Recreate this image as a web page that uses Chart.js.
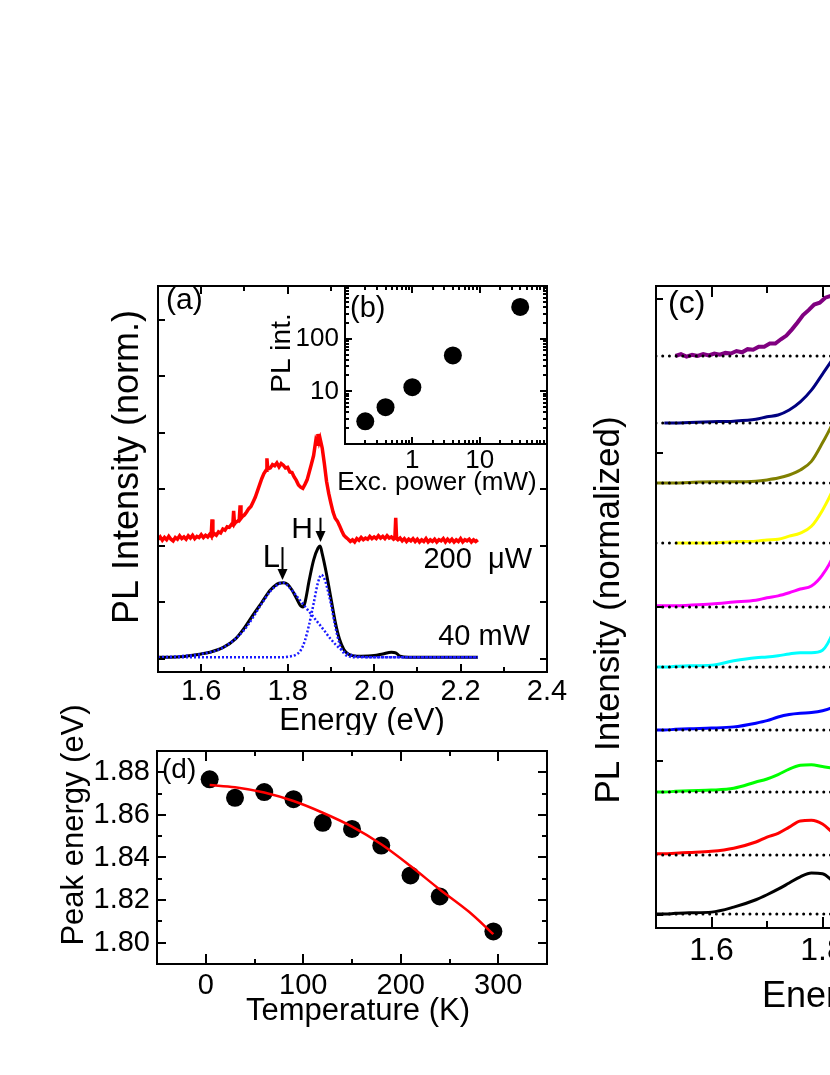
<!DOCTYPE html>
<html>
<head>
<meta charset="utf-8">
<script src="https://cdn.jsdelivr.net/npm/chart.js@4.4.0/dist/chart.umd.min.js"></script>
<style>
html, body { margin: 0; padding: 0; background: #fff; overflow: hidden; width: 830px; height: 1075px; }
.panel { position: absolute; }
</style>
</head>
<body>
<div class="panel" style="left:0px;top:240px"><canvas id="chartA" width="570" height="495"></canvas></div>
<div class="panel" style="left:250px;top:250px"><canvas id="chartB" width="310" height="250"></canvas></div>
<div class="panel" style="left:0px;top:690px"><canvas id="chartD" width="570" height="385"></canvas></div>
<div class="panel" style="left:560px;top:240px"><canvas id="chartC" width="560" height="835"></canvas></div>
<script>
// --- panel (a): PL spectra, 200 uW (red) and 40 mW (black) with two-peak fit ---
const redE = [
  1.500,1.505,1.510,1.515,1.520,1.525,1.530,1.535,1.540,1.545,1.550,1.555,1.560,1.565,1.570,1.575,1.580,1.585,1.590,1.595,1.600,1.605,1.610,1.615,1.620,
  1.623,1.625,1.627,1.630,1.635,1.640,1.645,1.650,1.655,1.660,1.665,1.670,1.673,1.675,1.677,1.680,1.685,1.688,1.690,1.692,1.695,
  1.700,1.705,1.710,1.715,1.720,1.725,1.730,1.735,1.740,1.745,1.750,1.752,1.754,1.760,1.765,1.770,1.775,1.780,1.785,1.790,1.795,1.800,
  1.805,1.810,1.815,1.820,1.825,1.830,1.835,1.840,1.845,1.850,1.855,1.860,1.865,1.868,1.870,1.873,1.875,1.880,1.885,1.890,1.895,1.900,1.905,1.910,1.915,1.920,1.925,1.930,1.935,
  1.940,1.945,1.950,1.955,1.960,1.965,1.970,1.975,1.980,1.985,1.990,1.995,2.000,2.005,2.010,2.015,2.020,2.025,2.030,2.035,2.040,2.045,2.048,2.050,2.052,
  2.055,2.060,2.065,2.070,2.075,2.080,2.085,2.090,2.095,2.100,2.105,2.110,2.115,2.120,2.125,2.130,2.135,2.140,2.145,2.150,
  2.155,2.160,2.165,2.170,2.175,2.180,2.185,2.190,2.195,2.200,2.205,2.210,2.215,2.220,2.225,2.230,2.235,2.240];
const redI = [
  2.12,2.16,2.10,2.15,2.11,2.17,2.12,2.09,2.15,2.12,2.18,2.13,2.16,2.12,2.18,2.14,2.19,2.13,2.17,2.15,2.20,2.15,2.19,2.16,2.21,
  2.18,2.47,2.19,2.22,2.19,2.25,2.23,2.30,2.28,2.34,2.33,2.38,2.37,2.62,2.39,2.42,2.44,2.47,2.72,2.49,2.52,
  2.55,2.60,2.66,2.70,2.78,2.86,2.97,3.08,3.19,3.28,3.34,3.55,3.36,3.38,3.44,3.42,3.47,3.40,3.46,3.43,3.38,3.39,
  3.31,3.30,3.22,3.16,3.08,3.04,3.02,3.09,3.17,3.31,3.45,3.60,3.86,3.80,3.98,3.85,3.90,3.73,3.45,3.14,2.93,2.76,2.60,2.49,2.44,2.36,2.27,2.19,2.15,
  2.12,2.08,2.11,2.07,2.13,2.10,2.15,2.11,2.14,2.12,2.17,2.13,2.16,2.13,2.18,2.14,2.17,2.13,2.18,2.14,2.16,2.12,2.14,2.50,2.13,
  2.11,2.14,2.09,2.13,2.08,2.12,2.09,2.13,2.08,2.12,2.07,2.11,2.08,2.13,2.07,2.11,2.08,2.12,2.07,2.11,
  2.09,2.13,2.07,2.12,2.08,2.12,2.07,2.11,2.08,2.13,2.07,2.11,2.09,2.12,2.07,2.11,2.08,2.11];

const blackE = [1.50,1.55,1.60,1.62,1.65,1.68,1.70,1.72,1.74,1.76,1.78,1.79,1.80,1.81,1.82,1.83,1.835,1.84,1.85,1.86,
  1.87,1.875,1.88,1.89,1.90,1.91,1.92,1.93,1.94,1.95,1.97,2.00,2.02,2.04,2.05,2.06,2.08,2.12,2.16,2.20,2.24];
const blackI = [0.03,0.04,0.09,0.12,0.20,0.36,0.55,0.78,1.00,1.22,1.34,1.35,1.32,1.22,1.08,0.94,0.92,1.00,1.40,1.75,
  1.96,2.00,1.86,1.50,1.08,0.66,0.35,0.17,0.09,0.06,0.05,0.06,0.09,0.12,0.11,0.05,0.03,0.03,0.03,0.03,0.03];

const fitLE = [1.50,1.55,1.60,1.65,1.70,1.74,1.76,1.78,1.79,1.80,1.82,1.84,1.86,1.88,1.90,1.92,1.94,1.96,2.00,2.24];
const fitLI = [0.03,0.05,0.09,0.20,0.52,0.98,1.20,1.33,1.35,1.30,1.12,0.93,0.74,0.55,0.35,0.19,0.09,0.05,0.03,0.03];
const fitHE = [1.50,1.78,1.80,1.82,1.83,1.84,1.85,1.86,1.87,1.878,1.885,1.89,1.90,1.91,1.92,1.93,1.94,1.96,2.24];
const fitHI = [0.03,0.03,0.04,0.08,0.15,0.33,0.62,0.98,1.35,1.49,1.42,1.30,0.98,0.58,0.27,0.10,0.05,0.03,0.03];

const peakArrows = [{e: 1.786, from: 1.98, to: 1.40}, {e: 1.875, from: 2.50, to: 2.07}];

const aXTicks = [1.6,1.7,1.8,1.9,2.0,2.1,2.2,2.3,2.4];
const aXLabels = [1.6,1.8,2.0,2.2,2.4];
const aYTicks = [0,1,2,3,4,5,6];

// --- panel (b): integrated PL vs excitation power ---
const excPower = [0.2, 0.4, 1, 4, 40];
const plInt = [2.7, 5, 12, 48, 400];
const bXTicks = [0.2,0.3,0.4,0.5,0.6,0.7,0.8,0.9,1,2,3,4,5,6,7,8,9,10,20,30,40,50,60,70,80,90];
const bXLabels = [1, 10];
const bYTicks = [2,3,4,5,6,7,8,9,10,20,30,40,50,60,70,80,90,100,200,300,400,500,600,700,800,900];
const bYLabels = [10, 100];

// --- panel (d): peak energy vs temperature ---
const tempK = [4, 30, 60, 90, 120, 150, 180, 210, 240, 295];
const peakE = [1.8767, 1.868, 1.8707, 1.8674, 1.8563, 1.8534, 1.8456, 1.8316, 1.8217, 1.8053];
const fitT = [4, 30, 60, 90, 120, 150, 180, 210, 240, 270, 295];
const fitE = [1.8740, 1.8730, 1.8705, 1.8665, 1.8610, 1.8545, 1.8462, 1.8360, 1.8250, 1.8145, 1.8040];
const dXTicks = [0, 50, 100, 150, 200, 250, 300];
const dXLabels = [0, 100, 200, 300];
const dYTicks = [1.80,1.81,1.82,1.83,1.84,1.85,1.86,1.87,1.88];
const dYLabels = [1.80,1.82,1.84,1.86,1.88];

// --- panel (c): temperature series, offset spectra ---
const cE = [1.50,1.515,1.535,1.56,1.60,1.64,1.68,1.70,1.72,1.74,1.76,1.78,1.80,1.82,1.84];
const cBlack   = [0,0,0.01,0.02,0.03,0.11,0.23,0.31,0.40,0.50,0.60,0.66,0.65,0.52,0.39];
const cRed     = [0.02,0.02,0.03,0.04,0.06,0.11,0.21,0.29,0.35,0.45,0.55,0.56,0.50,0.35,0.24];
const cGreen   = [0,0,0.01,0.02,0.03,0.06,0.16,0.21,0.28,0.37,0.43,0.44,0.41,0.39,0.39];
const cBlue    = [0,0,0.01,0.02,0.03,0.05,0.11,0.15,0.21,0.25,0.27,0.28,0.31,0.37,0.45];
const cCyan    = [0,0,0.01,0.02,0.03,0.10,0.15,0.16,0.18,0.21,0.23,0.23,0.27,0.58,1.13];
const cMagenta = [0.02,0.02,0.02,0.03,0.05,0.08,0.11,0.15,0.18,0.23,0.29,0.34,0.52,0.84,1.45];
const cYellow  = [null,null,0,0,0,0.02,0.03,0.05,0.06,0.11,0.16,0.27,0.53,0.89,1.45];
const cOlive   = [0,0,0,0.01,0.02,0.02,0.03,0.05,0.08,0.13,0.21,0.35,0.65,1.00,1.53];
const cNavy    = [null,0,0,0.01,0.02,0.03,0.06,0.10,0.13,0.21,0.34,0.53,0.79,1.05,1.30];
const purpleE = [1.535,1.545,1.555,1.565,1.575,1.585,1.595,1.605,1.615,1.625,1.635,1.645,1.655,1.665,1.675,1.685,
  1.695,1.705,1.715,1.725,1.735,1.745,1.755,1.765,1.775,1.785,1.795,1.805,1.815,1.825,1.835,1.845];
const purpleI = [0.00,0.03,-0.01,0.02,0.00,0.03,0.01,0.04,0.02,0.05,0.04,0.08,0.06,0.11,0.10,0.15,
  0.15,0.20,0.20,0.27,0.33,0.43,0.54,0.66,0.74,0.83,0.86,0.94,0.97,1.02,1.03,1.07];
const cOffsets = [0.226, 1.177, 2.194, 3.194, 4.210, 5.177, 6.210, 7.177, 8.145, 9.226];
const cColors = ['#000000','#ff0000','#00ff00','#0000ff','#00ffff','#ff00ff','#ffff00','#808000','#000080','#800080'];
const cXTicks = [1.6,1.7,1.8,1.9,2.0,2.1,2.2];
const cXLabels = [1.6,1.8,2.0,2.2];
const cYTicks = [0.21, 2.694, 5.177, 7.661, 10.145];

const FONT = "'Liberation Sans', Arial, Helvetica, sans-serif";
Chart.defaults.font.family = FONT;
Chart.defaults.color = '#000';
Chart.defaults.animation = false;

const pts = (xs, ys, off) => xs.map((x, i) => ({x: x, y: ys[i] == null ? null : ys[i] + (off || 0)}))
  .filter(p => p.y !== null);

// scale with fixed ticks, fixed box size and no grid
function axis(o) {
  return {
    type: o.type || 'linear',
    position: o.pos,
    min: o.min, max: o.max,
    grid: {display: false, drawTicks: false},
    border: {display: false},
    afterBuildTicks: s => { s.ticks = o.ticks.map(v => ({value: v})); },
    afterFit: s => {
      if (o.pos === 'left') s.width = o.size; else s.height = o.size;
      s.paddingLeft = s.paddingRight = s.paddingTop = s.paddingBottom = 0;
    },
    ticks: {
      autoSkip: false, maxRotation: 0, minRotation: 0,
      padding: o.pad || 0, color: '#000',
      font: {size: o.font || 29},
      callback: v => (o.labels || []).includes(v) ? o.fmt(v) : ''
    }
  };
}

// closed frame with inward ticks
function frame(o) {
  return {
    id: 'frame',
    beforeDatasetsDraw(chart) {
      if (!o.fill) return;
      const a = chart.chartArea;
      chart.ctx.save();
      chart.ctx.fillStyle = o.fill;
      chart.ctx.fillRect(a.left, a.top, a.width, a.height);
      chart.ctx.restore();
    },
    afterDraw(chart) {
      const {ctx, chartArea: a} = chart;
      const xs = chart.scales.x, ys = chart.scales.y;
      ctx.save();
      ctx.strokeStyle = '#000';
      ctx.lineWidth = 2;
      ctx.beginPath();
      xs.ticks.forEach(t => {
        const p = Math.round(xs.getPixelForValue(t.value));
        if (p <= a.left + 1 || p >= a.right - 1) return;
        const len = t.label ? o.xMajor : o.xMinor;
        ctx.moveTo(p, a.bottom); ctx.lineTo(p, a.bottom - len);
        ctx.moveTo(p, a.top); ctx.lineTo(p, a.top + len);
      });
      ys.ticks.forEach(t => {
        const p = Math.round(ys.getPixelForValue(t.value));
        if (p <= a.top + 1 || p >= a.bottom - 1) return;
        const len = t.label ? o.yMajor : o.yMinor;
        ctx.moveTo(a.left, p); ctx.lineTo(a.left + len, p);
        if (o.right !== false) { ctx.moveTo(a.right, p); ctx.lineTo(a.right - len, p); }
      });
      ctx.stroke();
      ctx.strokeRect(a.left, a.top, a.width, a.height);
      ctx.restore();
    }
  };
}

// free text, given in page coordinates
function notes(items, offX, offY) {
  return {
    id: 'notes',
    afterDraw(chart) {
      const ctx = chart.ctx;
      items.forEach(it => {
        ctx.save();
        ctx.translate(it.x - offX, it.y - offY);
        if (it.rot) ctx.rotate(it.rot);
        ctx.font = it.size + 'px ' + FONT;
        ctx.fillStyle = '#000';
        ctx.textAlign = it.align || 'center';
        ctx.textBaseline = it.base || 'middle';
        ctx.fillText(it.text, 0, 0);
        ctx.restore();
      });
    }
  };
}

const arrowsPlugin = {
  id: 'arrows',
  afterDatasetsDraw(chart) {
    const {ctx, scales: {x, y}} = chart;
    peakArrows.forEach(a => {
      const px = Math.round(x.getPixelForValue(a.e)) + 0.5;
      const y0 = y.getPixelForValue(a.from), y1 = y.getPixelForValue(a.to);
      ctx.save();
      ctx.strokeStyle = '#000'; ctx.fillStyle = '#000'; ctx.lineWidth = 2;
      ctx.beginPath(); ctx.moveTo(px, y0); ctx.lineTo(px, y1 - 9); ctx.stroke();
      ctx.beginPath(); ctx.moveTo(px - 5, y1 - 11); ctx.lineTo(px + 5, y1 - 11); ctx.lineTo(px, y1); ctx.closePath(); ctx.fill();
      ctx.restore();
    });
  }
};

const baseOpts = (pad, scales) => ({
  responsive: false,
  maintainAspectRatio: false,
  animation: false,
  events: [],
  layout: {padding: pad, autoPadding: false},
  plugins: {legend: {display: false}, tooltip: {enabled: false}},
  scales: scales
});

const lineDs = (data, color, width, extra) => Object.assign({
  data: data, borderColor: color, borderWidth: width, pointRadius: 0, fill: false,
  tension: 0, cubicInterpolationMode: 'monotone'
}, extra || {});

// ---------- chart (a) ----------
new Chart(document.getElementById('chartA'), {
  type: 'line',
  data: {
    datasets: [
      lineDs(pts(fitLE, fitLI), '#1a1aff', 2.5, {borderDash: [2, 2]}),
      lineDs(pts(fitHE, fitHI), '#1a1aff', 2.5, {borderDash: [2, 2]}),
      lineDs(pts(blackE, blackI), '#000000', 3),
      lineDs(pts(redE, redI), '#ff0000', 3.5, {cubicInterpolationMode: 'default'})
    ]
  },
  options: baseOpts({top: 46, right: 23, left: 0, bottom: 0}, {
    x: axis({pos: 'bottom', min: 1.5, max: 2.4, ticks: aXTicks, labels: aXLabels, fmt: v => v.toFixed(1), size: 63, pad: 3, font: 29}),
    y: axis({pos: 'left', min: -0.23, max: 6.6, ticks: aYTicks, labels: [], fmt: v => '', size: 158})
  }),
  plugins: [arrowsPlugin, frame({xMajor: 8, xMinor: 5, yMajor: 7, yMinor: 7}), notes([
    {text: 'PL Intensity (norm.)', x: 128, y: 467, size: 36, rot: -Math.PI / 2},
    {text: 'Energy (eV)', x: 362, y: 721, size: 31},
    {text: '(a)', x: 166, y: 301, size: 30, align: 'left'},
    {text: '200  \u03bcW', x: 532, y: 560, size: 29, align: 'right'},
    {text: '40 mW', x: 530, y: 637, size: 29, align: 'right'},
    {text: 'L', x: 280, y: 567, size: 31, align: 'right', base: 'alphabetic'},
    {text: 'H', x: 313, y: 538, size: 30, align: 'right', base: 'alphabetic'}
  ], 0, 240)]
});

// ---------- chart (b) inset ----------
new Chart(document.getElementById('chartB'), {
  type: 'scatter',
  data: {
    datasets: [{data: pts(excPower, plInt), backgroundColor: '#000', borderColor: '#000', pointRadius: 9, borderWidth: 0}]
  },
  options: baseOpts({top: 36, right: 13, left: 0, bottom: 0}, {
    x: axis({type: 'logarithmic', pos: 'bottom', min: 0.1, max: 100, ticks: bXTicks, labels: bXLabels, fmt: v => String(v), size: 56, pad: 1, font: 26}),
    y: axis({type: 'logarithmic', pos: 'left', min: 1, max: 1000, ticks: bYTicks, labels: bYLabels, fmt: v => String(v), size: 95, pad: 6, font: 26})
  }),
  plugins: [frame({fill: '#fff', xMajor: 7, xMinor: 4, yMajor: 7, yMinor: 4}), notes([
    {text: '(b)', x: 350, y: 309, size: 29, align: 'left'},
    {text: 'PL int.', x: 282, y: 353, size: 28, rot: -Math.PI / 2},
    {text: 'Exc. power (mW)', x: 437, y: 483, size: 26}
  ], 250, 250)]
});

// ---------- chart (d) ----------
new Chart(document.getElementById('chartD'), {
  type: 'line',
  data: {
    datasets: [
      lineDs(pts(fitT, fitE), '#ff0000', 2.5),
      {type: 'scatter', data: pts(tempK, peakE), backgroundColor: '#000', borderColor: '#000', pointRadius: 9, borderWidth: 0, showLine: false}
    ]
  },
  options: baseOpts({top: 61, right: 23, left: 0, bottom: 0}, {
    x: axis({pos: 'bottom', min: -50, max: 350, ticks: dXTicks, labels: dXLabels, fmt: v => String(v), size: 111, pad: 5, font: 29}),
    y: axis({pos: 'left', min: 1.79, max: 1.89, ticks: dYTicks, labels: dYLabels, fmt: v => v.toFixed(2), size: 157, pad: 7, font: 29})
  }),
  plugins: [frame({xMajor: 10, xMinor: 5, yMajor: 9, yMinor: 5}), notes([
    {text: '(d)', x: 162, y: 770, size: 28, align: 'left'},
    {text: 'Peak energy (eV)', x: 74, y: 825, size: 31, rot: -Math.PI / 2},
    {text: 'Temperature (K)', x: 358, y: 1011, size: 31}
  ], 0, 690)]
});

// ---------- chart (c) ----------
const cSeries = [cBlack, cRed, cGreen, cBlue, cCyan, cMagenta, cYellow, cOlive, cNavy];
const cDatasets = [];
cOffsets.forEach(off => {
  cDatasets.push(lineDs([{x: 1.5, y: off}, {x: 2.3, y: off}], '#000', 3,
    {borderDash: [0.01, 6.7], borderCapStyle: 'round'}));
});
cSeries.forEach((s, i) => cDatasets.push(lineDs(pts(cE, s, cOffsets[i]), cColors[i], 3)));
cDatasets.push(lineDs(pts(purpleE, purpleI, cOffsets[9]), cColors[9], 4, {cubicInterpolationMode: 'default'}));

new Chart(document.getElementById('chartC'), {
  type: 'line',
  data: {datasets: cDatasets},
  options: baseOpts({top: 46, right: 20, left: 0, bottom: 0}, {
    x: axis({pos: 'bottom', min: 1.5, max: 2.3, ticks: cXTicks, labels: cXLabels, fmt: v => v.toFixed(1), size: 147, pad: 4, font: 32}),
    y: axis({pos: 'left', min: 0, max: 10.355, ticks: cYTicks, labels: [], fmt: v => '', size: 96})
  }),
  plugins: [frame({xMajor: 11, xMinor: 7, yMajor: 7, yMinor: 7, right: false}), notes([
    {text: '(c)', x: 668, y: 304, size: 32, align: 'left'},
    {text: 'PL Intensity (normalized)', x: 609, y: 610, size: 35, rot: -Math.PI / 2},
    {text: 'Energy (eV)', x: 858, y: 997, size: 36}
  ], 560, 240)]
});
</script>
</body>
</html>
